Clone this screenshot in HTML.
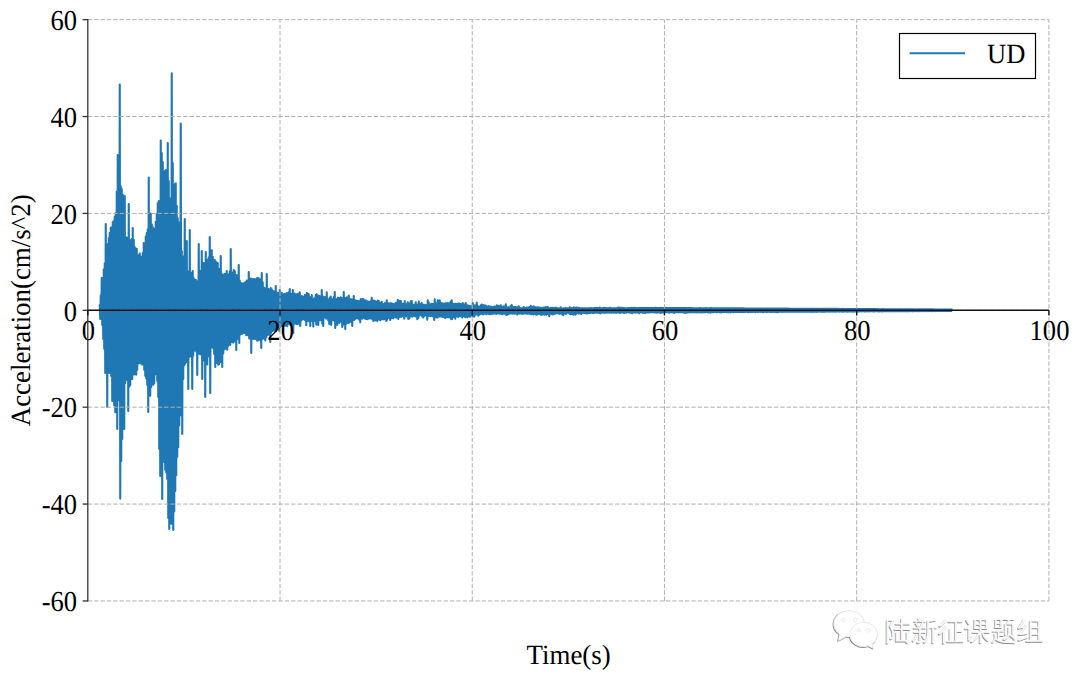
<!DOCTYPE html>
<html><head><meta charset="utf-8"><style>
html,body{margin:0;padding:0;background:#fff;width:1080px;height:680px;overflow:hidden}
svg{display:block}
text{font-family:"Liberation Serif",serif;font-size:27.8px;fill:#000;text-rendering:geometricPrecision}
.wm{font-family:"Liberation Sans",sans-serif;font-size:26.5px;font-weight:400}
</style></head><body>
<svg width="1080" height="680" viewBox="0 0 1080 680">
<rect width="1080" height="680" fill="#fff"/>
<path d="M99.75 304.1 L100.25 318.9 L100.75 295.2 L101.25 318.6 L101.75 278.1 L102.25 325.1 L102.75 277.9 L103.25 338.9 L103.75 269.4 L104.25 348.9 L104.75 263.4 L105.25 372.9 L105.75 224.1 L106.25 343.9 L106.75 244.1 L107.25 406.9 L107.75 244.8 L108.25 354.3 L108.75 238.1 L109.25 372.9 L109.75 232.7 L110.25 365.7 L110.75 227.7 L111.25 375.9 L111.75 227.4 L112.25 400.9 L112.75 222.1 L113.25 400.1 L113.75 221.1 L114.25 405.2 L114.75 216.6 L115.25 412.3 L115.75 213.1 L116.25 410.7 L116.75 191.5 L117.25 428.9 L117.75 155.1 L118.25 400.5 L118.75 192.6 L119.25 394.0 L119.75 84.6 L120.25 498.6 L120.75 186.2 L121.25 460.9 L121.75 189.1 L122.25 438.9 L122.75 194.6 L123.25 385.3 L123.75 203.9 L124.25 428.9 L124.75 196.1 L125.25 382.9 L125.75 237.0 L126.25 378.7 L126.75 238.2 L127.25 379.9 L127.75 237.6 L128.25 410.9 L128.75 204.1 L129.25 386.8 L129.75 240.8 L130.25 385.2 L130.75 240.1 L131.25 379.3 L131.75 238.9 L132.25 378.9 L132.75 228.1 L133.25 374.1 L133.75 239.9 L134.25 374.5 L134.75 247.0 L135.25 372.4 L135.75 248.6 L136.25 374.8 L136.75 248.8 L137.25 369.8 L137.75 257.4 L138.25 363.4 L138.75 255.1 L139.25 361.9 L139.75 253.5 L140.25 363.5 L140.75 256.5 L141.25 355.3 L141.75 260.4 L142.25 364.8 L142.75 253.1 L143.25 364.0 L143.75 243.1 L144.25 369.7 L144.75 244.1 L145.25 375.7 L145.75 236.5 L146.25 378.4 L146.75 232.9 L147.25 384.9 L147.75 229.4 L148.25 411.9 L148.75 177.6 L149.25 395.5 L149.75 220.8 L150.25 395.7 L150.75 213.5 L151.25 386.9 L151.75 224.2 L152.25 383.9 L152.75 227.1 L153.25 384.8 L153.75 228.7 L154.25 382.9 L154.75 228.6 L155.25 374.5 L155.75 221.8 L156.25 371.5 L156.75 214.1 L157.25 380.9 L157.75 203.1 L158.25 396.9 L158.75 201.0 L159.25 448.9 L159.75 201.2 L160.25 475.9 L160.75 140.6 L161.25 424.2 L161.75 153.1 L162.25 498.9 L162.75 162.1 L163.25 440.7 L163.75 184.4 L164.25 461.9 L164.75 171.1 L165.25 469.7 L165.75 170.0 L166.25 472.5 L166.75 174.2 L167.25 478.9 L167.75 143.1 L168.25 518.1 L168.75 181.1 L169.25 529.0 L169.75 198.2 L170.25 516.6 L170.75 200.2 L171.25 523.7 L171.75 73.4 L172.25 516.4 L172.75 163.1 L173.25 530.0 L173.75 186.3 L174.25 511.4 L174.75 184.4 L175.25 490.9 L175.75 183.4 L176.25 475.3 L176.75 205.7 L177.25 456.8 L177.75 218.3 L178.25 447.2 L178.75 222.4 L179.25 425.4 L179.75 229.2 L180.25 415.4 L180.75 123.6 L181.25 399.5 L181.75 251.1 L182.25 433.9 L182.75 256.3 L183.25 379.0 L183.75 262.9 L184.25 365.2 L184.75 219.1 L185.25 363.5 L185.75 272.2 L186.25 361.9 L186.75 241.1 L187.25 361.4 L187.75 271.3 L188.25 388.9 L188.75 274.2 L189.25 357.1 L189.75 230.1 L190.25 356.5 L190.75 272.5 L191.25 354.3 L191.75 277.3 L192.25 388.9 L192.75 271.1 L193.25 355.8 L193.75 278.1 L194.25 350.8 L194.75 279.9 L195.25 350.1 L195.75 279.7 L196.25 351.4 L196.75 281.4 L197.25 374.9 L197.75 281.6 L198.25 350.9 L198.75 244.1 L199.25 353.8 L199.75 274.6 L200.25 354.4 L200.75 270.8 L201.25 353.8 L201.75 251.1 L202.25 378.9 L202.75 267.6 L203.25 359.0 L203.75 263.1 L204.25 360.8 L204.75 263.0 L205.25 396.9 L205.75 252.1 L206.25 362.5 L206.75 259.7 L207.25 364.4 L207.75 259.5 L208.25 356.5 L208.75 257.2 L209.25 353.5 L209.75 237.1 L210.25 392.9 L210.75 257.8 L211.25 347.4 L211.75 250.3 L212.25 342.7 L212.75 256.7 L213.25 348.4 L213.75 260.8 L214.25 354.0 L214.75 259.9 L215.25 366.9 L215.75 261.5 L216.25 363.3 L216.75 262.6 L217.25 362.1 L217.75 263.1 L218.25 364.7 L218.75 268.7 L219.25 364.1 L219.75 270.6 L220.25 362.0 L220.75 256.1 L221.25 361.2 L221.75 273.7 L222.25 366.9 L222.75 274.8 L223.25 353.4 L223.75 274.7 L224.25 349.5 L224.75 273.7 L225.25 348.8 L225.75 274.7 L226.25 347.2 L226.75 271.1 L227.25 349.7 L227.75 274.8 L228.25 345.8 L228.75 274.3 L229.25 343.4 L229.75 271.2 L230.25 344.9 L230.75 249.1 L231.25 342.1 L231.75 272.2 L232.25 342.1 L232.75 273.4 L233.25 342.6 L233.75 270.0 L234.25 341.6 L234.75 271.1 L235.25 340.6 L235.75 274.8 L236.25 349.9 L236.75 277.2 L237.25 339.1 L237.75 275.0 L238.25 335.7 L238.75 265.1 L239.25 342.9 L239.75 280.5 L240.25 334.5 L240.75 282.8 L241.25 332.3 L241.75 284.2 L242.25 334.0 L242.75 283.6 L243.25 331.7 L243.75 283.4 L244.25 332.9 L244.75 282.8 L245.25 333.0 L245.75 282.1 L246.25 335.2 L246.75 280.6 L247.25 334.5 L247.75 280.5 L248.25 335.4 L248.75 272.1 L249.25 338.6 L249.75 280.9 L250.25 336.2 L250.75 278.6 L251.25 352.9 L251.75 278.9 L252.25 337.9 L252.75 280.7 L253.25 339.0 L253.75 279.1 L254.25 338.4 L254.75 279.2 L255.25 339.0 L255.75 279.6 L256.25 339.3 L256.75 278.4 L257.25 340.8 L257.75 278.0 L258.25 340.2 L258.75 278.2 L259.25 338.8 L259.75 279.7 L260.25 340.1 L260.75 279.3 L261.25 347.9 L261.75 273.1 L262.25 338.9 L262.75 282.2 L263.25 338.5 L263.75 287.6 L264.25 338.2 L264.75 288.3 L265.25 340.4 L265.75 288.7 L266.25 337.4 L266.75 274.1 L267.25 335.1 L267.75 288.6 L268.25 334.8 L268.75 289.2 L269.25 334.1 L269.75 290.1 L270.25 341.9 L270.75 288.1 L271.25 332.8 L271.75 289.3 L272.25 331.1 L272.75 291.1 L273.25 330.6 L273.75 291.2 L274.25 330.4 L274.75 291.2 L275.25 330.3 L275.75 286.1 L276.25 331.2 L276.75 292.3 L277.25 329.1 L277.75 293.4 L278.25 328.9 L278.75 292.8 L279.25 330.9 L279.75 290.1 L280.25 327.1 L280.75 294.4 L281.25 326.1 L281.75 292.7 L282.25 325.9 L282.75 295.0 L283.25 325.9 L283.75 294.3 L284.25 325.1 L284.75 293.8 L285.25 325.6 L285.75 294.8 L286.25 325.5 L286.75 293.1 L287.25 326.2 L287.75 294.3 L288.25 323.9 L288.75 292.2 L289.25 323.8 L289.75 289.1 L290.25 325.0 L290.75 295.0 L291.25 323.7 L291.75 293.9 L292.25 324.2 L292.75 290.1 L293.25 332.9 L293.75 293.7 L294.25 323.6 L294.75 293.6 L295.25 323.4 L295.75 295.1 L296.25 324.0 L296.75 294.3 L297.25 324.1 L297.75 294.1 L298.25 323.7 L298.75 293.6 L299.25 323.0 L299.75 292.3 L300.25 325.9 L300.75 296.8 L301.25 320.4 L301.75 296.0 L302.25 319.4 L302.75 296.7 L303.25 318.6 L303.75 297.2 L304.25 319.6 L304.75 295.1 L305.25 320.1 L305.75 296.7 L306.25 325.3 L306.75 293.1 L307.25 320.5 L307.75 293.8 L308.25 321.1 L308.75 294.2 L309.25 321.3 L309.75 297.4 L310.25 326.0 L310.75 297.0 L311.25 321.0 L311.75 295.1 L312.25 319.3 L312.75 298.7 L313.25 326.6 L313.75 298.9 L314.25 318.7 L314.75 298.1 L315.25 320.9 L315.75 295.1 L316.25 324.6 L316.75 294.4 L317.25 320.7 L317.75 295.5 L318.25 324.9 L318.75 295.7 L319.25 320.3 L319.75 296.2 L320.25 320.3 L320.75 296.5 L321.25 318.1 L321.75 290.1 L322.25 323.6 L322.75 296.2 L323.25 325.9 L323.75 298.7 L324.25 317.3 L324.75 297.0 L325.25 317.4 L325.75 299.2 L326.25 318.6 L326.75 292.3 L327.25 317.8 L327.75 300.0 L328.25 320.4 L328.75 299.2 L329.25 324.1 L329.75 297.7 L330.25 319.7 L330.75 296.6 L331.25 325.0 L331.75 299.1 L332.25 318.8 L332.75 299.3 L333.25 320.1 L333.75 297.1 L334.25 320.6 L334.75 292.1 L335.25 327.9 L335.75 301.5 L336.25 322.4 L336.75 299.1 L337.25 325.0 L337.75 297.7 L338.25 321.0 L338.75 297.9 L339.25 322.9 L339.75 299.4 L340.25 321.7 L340.75 297.3 L341.25 321.4 L341.75 298.1 L342.25 326.9 L342.75 298.4 L343.25 324.6 L343.75 292.1 L344.25 321.7 L344.75 297.8 L345.25 328.9 L345.75 299.2 L346.25 323.8 L346.75 297.4 L347.25 321.5 L347.75 298.8 L348.25 322.9 L348.75 295.6 L349.25 322.5 L349.75 300.9 L350.25 320.3 L350.75 299.1 L351.25 321.9 L351.75 300.6 L352.25 325.9 L352.75 299.4 L353.25 319.7 L353.75 296.1 L354.25 319.9 L354.75 300.0 L355.25 319.0 L355.75 300.7 L356.25 318.3 L356.75 300.8 L357.25 317.8 L357.75 300.9 L358.25 318.7 L358.75 301.1 L359.25 319.8 L359.75 301.2 L360.25 322.3 L360.75 299.1 L361.25 317.6 L361.75 301.7 L362.25 318.8 L362.75 299.1 L363.25 317.6 L363.75 299.5 L364.25 318.2 L364.75 302.8 L365.25 318.7 L365.75 300.2 L366.25 318.9 L366.75 302.4 L367.25 319.1 L367.75 301.3 L368.25 318.6 L368.75 302.1 L369.25 318.4 L369.75 301.9 L370.25 318.1 L370.75 301.0 L371.25 318.6 L371.75 297.7 L372.25 318.6 L372.75 301.4 L373.25 320.9 L373.75 300.6 L374.25 319.9 L374.75 301.1 L375.25 320.5 L375.75 301.5 L376.25 318.7 L376.75 302.1 L377.25 320.9 L377.75 300.6 L378.25 319.5 L378.75 301.1 L379.25 319.4 L379.75 302.7 L380.25 320.2 L380.75 302.9 L381.25 319.2 L381.75 301.8 L382.25 319.3 L382.75 304.0 L383.25 319.3 L383.75 304.0 L384.25 319.1 L384.75 303.1 L385.25 318.7 L385.75 303.6 L386.25 320.9 L386.75 300.4 L387.25 319.6 L387.75 303.6 L388.25 318.0 L388.75 303.3 L389.25 317.7 L389.75 303.7 L390.25 319.9 L390.75 303.2 L391.25 318.1 L391.75 303.6 L392.25 317.6 L392.75 303.8 L393.25 318.2 L393.75 304.0 L394.25 317.3 L394.75 304.6 L395.25 316.9 L395.75 302.9 L396.25 317.6 L396.75 304.6 L397.25 316.8 L397.75 299.8 L398.25 318.9 L398.75 304.5 L399.25 317.1 L399.75 301.1 L400.25 316.0 L400.75 300.9 L401.25 317.0 L401.75 303.7 L402.25 315.8 L402.75 303.9 L403.25 316.3 L403.75 304.5 L404.25 318.8 L404.75 301.1 L405.25 316.0 L405.75 304.1 L406.25 316.4 L406.75 304.2 L407.25 315.8 L407.75 302.4 L408.25 318.9 L408.75 303.4 L409.25 318.5 L409.75 303.3 L410.25 316.5 L410.75 301.4 L411.25 316.2 L411.75 301.1 L412.25 316.6 L412.75 304.9 L413.25 316.0 L413.75 304.9 L414.25 315.7 L414.75 304.5 L415.25 316.4 L415.75 302.2 L416.25 315.3 L416.75 304.6 L417.25 319.1 L417.75 305.2 L418.25 317.9 L418.75 301.5 L419.25 315.6 L419.75 303.7 L420.25 314.8 L420.75 304.5 L421.25 315.2 L421.75 303.1 L422.25 316.5 L422.75 305.7 L423.25 317.5 L423.75 304.8 L424.25 315.9 L424.75 304.9 L425.25 315.0 L425.75 305.7 L426.25 315.5 L426.75 304.7 L427.25 319.6 L427.75 300.4 L428.25 315.5 L428.75 302.3 L429.25 315.9 L429.75 305.8 L430.25 316.3 L430.75 304.2 L431.25 315.8 L431.75 303.8 L432.25 316.0 L432.75 304.6 L433.25 316.5 L433.75 303.8 L434.25 319.9 L434.75 299.4 L435.25 317.3 L435.75 304.8 L436.25 316.2 L436.75 303.4 L437.25 317.8 L437.75 300.4 L438.25 316.6 L438.75 303.8 L439.25 316.4 L439.75 300.4 L440.25 316.5 L440.75 303.1 L441.25 316.3 L441.75 303.3 L442.25 317.0 L442.75 303.2 L443.25 316.8 L443.75 304.4 L444.25 317.0 L444.75 303.6 L445.25 318.3 L445.75 303.4 L446.25 316.4 L446.75 303.5 L447.25 317.2 L447.75 303.1 L448.25 317.3 L448.75 304.5 L449.25 316.8 L449.75 303.1 L450.25 317.7 L450.75 301.3 L451.25 319.3 L451.75 300.2 L452.25 319.0 L452.75 303.9 L453.25 317.0 L453.75 303.7 L454.25 316.9 L454.75 304.0 L455.25 318.8 L455.75 303.8 L456.25 315.9 L456.75 304.1 L457.25 316.4 L457.75 303.7 L458.25 316.9 L458.75 303.5 L459.25 316.0 L459.75 303.9 L460.25 316.1 L460.75 304.1 L461.25 316.3 L461.75 304.0 L462.25 317.4 L462.75 303.1 L463.25 316.1 L463.75 304.3 L464.25 316.0 L464.75 304.9 L465.25 317.3 L465.75 303.0 L466.25 315.5 L466.75 305.4 L467.25 317.1 L467.75 305.4 L468.25 315.6 L468.75 306.0 L469.25 316.5 L469.75 305.7 L470.25 316.6 L470.75 306.3 L471.25 314.9 L471.75 306.2 L472.25 315.6 L472.75 303.1 L473.25 316.5 L473.75 306.5 L474.25 316.8 L474.75 305.2 L475.25 314.8 L475.75 305.3 L476.25 314.3 L476.75 302.6 L477.25 314.4 L477.75 305.8 L478.25 315.8 L478.75 306.7 L479.25 314.7 L479.75 306.5 L480.25 314.0 L480.75 305.4 L481.25 313.8 L481.75 304.5 L482.25 313.8 L482.75 307.1 L483.25 314.5 L483.75 305.1 L484.25 313.4 L484.75 307.1 L485.25 313.5 L485.75 305.6 L486.25 314.1 L486.75 306.2 L487.25 313.4 L487.75 307.2 L488.25 313.5 L488.75 306.1 L489.25 314.1 L489.75 307.1 L490.25 314.2 L490.75 306.5 L491.25 313.9 L491.75 307.1 L492.25 313.8 L492.75 307.4 L493.25 313.5 L493.75 306.8 L494.25 313.5 L494.75 306.5 L495.25 313.5 L495.75 307.1 L496.25 314.0 L496.75 305.4 L497.25 313.2 L497.75 307.0 L498.25 313.4 L498.75 305.7 L499.25 313.5 L499.75 306.5 L500.25 313.6 L500.75 305.2 L501.25 313.6 L501.75 307.6 L502.25 314.2 L502.75 306.8 L503.25 313.6 L503.75 306.2 L504.25 313.7 L504.75 306.5 L505.25 313.5 L505.75 304.4 L506.25 314.9 L506.75 307.0 L507.25 314.6 L507.75 307.8 L508.25 314.1 L508.75 307.3 L509.25 313.7 L509.75 307.8 L510.25 313.2 L510.75 305.9 L511.25 313.4 L511.75 305.1 L512.25 313.6 L512.75 307.2 L513.25 313.4 L513.75 307.1 L514.25 313.6 L514.75 307.0 L515.25 313.5 L515.75 307.1 L516.25 313.4 L516.75 307.7 L517.25 314.5 L517.75 307.1 L518.25 313.3 L518.75 306.3 L519.25 313.6 L519.75 308.1 L520.25 313.5 L520.75 308.3 L521.25 313.7 L521.75 308.4 L522.25 313.8 L522.75 308.2 L523.25 313.7 L523.75 307.0 L524.25 313.5 L524.75 308.1 L525.25 313.3 L525.75 308.4 L526.25 313.6 L526.75 307.5 L527.25 313.7 L527.75 307.9 L528.25 313.5 L528.75 307.5 L529.25 313.7 L529.75 307.0 L530.25 313.6 L530.75 305.7 L531.25 314.2 L531.75 307.7 L532.25 313.6 L532.75 307.0 L533.25 314.4 L533.75 306.3 L534.25 313.8 L534.75 307.2 L535.25 314.2 L535.75 307.2 L536.25 314.8 L536.75 307.8 L537.25 314.4 L537.75 307.4 L538.25 314.0 L538.75 307.8 L539.25 313.8 L539.75 307.6 L540.25 314.1 L540.75 308.0 L541.25 314.9 L541.75 307.7 L542.25 314.4 L542.75 308.1 L543.25 314.2 L543.75 307.6 L544.25 314.8 L544.75 307.7 L545.25 313.8 L545.75 307.1 L546.25 314.8 L546.75 307.7 L547.25 313.9 L547.75 307.1 L548.25 313.7 L548.75 308.2 L549.25 316.1 L549.75 308.2 L550.25 313.4 L550.75 308.0 L551.25 313.6 L551.75 307.9 L552.25 314.4 L552.75 307.9 L553.25 314.2 L553.75 308.0 L554.25 313.8 L554.75 308.0 L555.25 313.6 L555.75 307.6 L556.25 313.0 L556.75 308.3 L557.25 313.3 L557.75 308.2 L558.25 313.2 L558.75 308.4 L559.25 313.8 L559.75 308.5 L560.25 313.3 L560.75 307.4 L561.25 313.7 L561.75 308.5 L562.25 314.5 L562.75 308.5 L563.25 315.1 L563.75 308.2 L564.25 312.9 L564.75 308.5 L565.25 313.7 L565.75 308.1 L566.25 313.7 L566.75 308.5 L567.25 312.8 L567.75 308.4 L568.25 312.7 L568.75 308.5 L569.25 313.4 L569.75 307.4 L570.25 314.1 L570.75 308.1 L571.25 313.9 L571.75 308.1 L572.25 313.0 L572.75 308.4 L573.25 314.7 L573.75 307.4 L574.25 313.1 L574.75 308.6 L575.25 314.6 L575.75 307.7 L576.25 313.8 L576.75 307.5 L577.25 312.8 L577.75 308.6 L578.25 313.4 L578.75 307.9 L579.25 313.4 L579.75 308.4 L580.25 313.4 L580.75 308.2 L581.25 314.0 L581.75 308.3 L582.25 313.0 L582.75 308.2 L583.25 312.7 L583.75 308.3 L584.25 312.9 L584.75 308.3 L585.25 313.0 L585.75 308.4 L586.25 313.5 L586.75 308.5 L587.25 313.4 L587.75 308.3 L588.25 312.9 L588.75 308.4 L589.25 312.9 L589.75 308.3 L590.25 312.9 L590.75 308.1 L591.25 312.5 L591.75 308.3 L592.25 313.0 L592.75 308.4 L593.25 313.1 L593.75 308.3 L594.25 312.8 L594.75 308.1 L595.25 312.6 L595.75 308.1 L596.25 312.5 L596.75 307.7 L597.25 312.7 L597.75 308.1 L598.25 312.8 L598.75 308.4 L599.25 313.0 L599.75 307.6 L600.25 313.4 L600.75 308.2 L601.25 312.6 L601.75 308.3 L602.25 312.5 L602.75 308.4 L603.25 312.7 L603.75 307.9 L604.25 312.8 L604.75 308.3 L605.25 312.8 L605.75 308.1 L606.25 312.5 L606.75 308.3 L607.25 312.7 L607.75 308.2 L608.25 312.4 L608.75 308.2 L609.25 312.7 L609.75 307.9 L610.25 312.5 L610.75 308.3 L611.25 312.7 L611.75 308.4 L612.25 312.4 L612.75 308.3 L613.25 312.7 L613.75 308.2 L614.25 312.4 L614.75 308.2 L615.25 312.7 L615.75 308.2 L616.25 312.8 L616.75 308.3 L617.25 312.4 L617.75 307.9 L618.25 312.4 L618.75 307.6 L619.25 313.0 L619.75 307.8 L620.25 312.8 L620.75 307.9 L621.25 312.5 L621.75 308.0 L622.25 312.4 L622.75 307.7 L623.25 312.6 L623.75 308.1 L624.25 312.9 L624.75 308.3 L625.25 312.3 L625.75 308.2 L626.25 312.6 L626.75 308.2 L627.25 312.3 L627.75 308.2 L628.25 312.4 L628.75 308.0 L629.25 312.3 L629.75 308.0 L630.25 312.8 L630.75 308.2 L631.25 312.6 L631.75 307.7 L632.25 313.2 L632.75 308.1 L633.25 312.4 L633.75 307.8 L634.25 312.3 L634.75 307.9 L635.25 312.7 L635.75 308.1 L636.25 312.4 L636.75 308.1 L637.25 312.4 L637.75 308.2 L638.25 312.5 L638.75 308.1 L639.25 313.1 L639.75 308.1 L640.25 312.4 L640.75 308.0 L641.25 312.2 L641.75 308.1 L642.25 312.4 L642.75 308.1 L643.25 312.9 L643.75 308.1 L644.25 312.5 L644.75 308.1 L645.25 312.9 L645.75 308.0 L646.25 312.5 L646.75 308.1 L647.25 312.4 L647.75 308.0 L648.25 312.5 L648.75 308.1 L649.25 312.4 L649.75 308.1 L650.25 312.2 L650.75 308.0 L651.25 312.3 L651.75 308.0 L652.25 312.2 L652.75 308.0 L653.25 312.3 L653.75 308.1 L654.25 312.5 L654.75 308.0 L655.25 312.3 L655.75 307.9 L656.25 312.6 L656.75 308.0 L657.25 312.4 L657.75 308.0 L658.25 312.5 L658.75 308.0 L659.25 312.3 L659.75 308.0 L660.25 312.9 L660.75 307.9 L661.25 312.5 L661.75 308.0 L662.25 312.4 L662.75 308.0 L663.25 312.4 L663.75 308.0 L664.25 312.3 L664.75 307.9 L665.25 312.3 L665.75 308.0 L666.25 312.3 L666.75 307.9 L667.25 312.2 L667.75 308.0 L668.25 312.2 L668.75 308.1 L669.25 312.6 L669.75 308.0 L670.25 312.3 L670.75 308.0 L671.25 312.3 L671.75 308.0 L672.25 312.4 L672.75 308.0 L673.25 312.2 L673.75 308.0 L674.25 312.9 L674.75 308.1 L675.25 312.3 L675.75 308.1 L676.25 312.3 L676.75 308.0 L677.25 312.3 L677.75 308.1 L678.25 312.3 L678.75 308.1 L679.25 312.1 L679.75 308.1 L680.25 312.1 L680.75 308.1 L681.25 312.3 L681.75 308.1 L682.25 312.1 L682.75 308.1 L683.25 312.1 L683.75 308.0 L684.25 312.8 L684.75 308.1 L685.25 312.8 L685.75 308.1 L686.25 312.8 L686.75 308.1 L687.25 312.5 L687.75 308.2 L688.25 312.2 L688.75 308.1 L689.25 312.4 L689.75 308.2 L690.25 312.1 L690.75 308.1 L691.25 312.3 L691.75 308.1 L692.25 312.3 L692.75 308.2 L693.25 312.3 L693.75 308.2 L694.25 312.1 L694.75 308.2 L695.25 312.2 L695.75 308.2 L696.25 312.5 L696.75 308.2 L697.25 312.1 L697.75 308.2 L698.25 312.2 L698.75 308.2 L699.25 312.1 L699.75 308.1 L700.25 312.4 L700.75 308.2 L701.25 312.1 L701.75 308.2 L702.25 312.5 L702.75 308.2 L703.25 312.1 L703.75 308.2 L704.25 312.1 L704.75 308.2 L705.25 312.1 L705.75 308.1 L706.25 312.0 L706.75 308.2 L707.25 312.2 L707.75 308.3 L708.25 312.5 L708.75 308.2 L709.25 312.0 L709.75 308.2 L710.25 312.6 L710.75 308.1 L711.25 312.1 L711.75 308.2 L712.25 312.2 L712.75 308.2 L713.25 312.3 L713.75 308.3 L714.25 312.0 L714.75 308.2 L715.25 312.0 L715.75 308.3 L716.25 312.1 L716.75 308.3 L717.25 312.1 L717.75 308.3 L718.25 312.0 L718.75 308.3 L719.25 312.1 L719.75 308.3 L720.25 312.1 L720.75 308.3 L721.25 312.5 L721.75 308.3 L722.25 311.9 L722.75 308.3 L723.25 311.9 L723.75 308.3 L724.25 312.0 L724.75 308.4 L725.25 311.9 L725.75 308.3 L726.25 312.1 L726.75 308.3 L727.25 311.9 L727.75 308.3 L728.25 312.3 L728.75 308.3 L729.25 312.0 L729.75 308.4 L730.25 312.4 L730.75 308.3 L731.25 311.9 L731.75 308.2 L732.25 311.9 L732.75 308.4 L733.25 312.2 L733.75 308.4 L734.25 311.9 L734.75 308.4 L735.25 312.0 L735.75 308.3 L736.25 312.0 L736.75 308.4 L737.25 312.0 L737.75 308.4 L738.25 311.9 L738.75 308.4 L739.25 311.9 L739.75 308.4 L740.25 311.9 L740.75 308.4 L741.25 311.9 L741.75 308.4 L742.25 312.1 L742.75 308.4 L743.25 312.0 L743.75 308.4 L744.25 311.9 L744.75 308.5 L745.25 311.9 L745.75 308.5 L746.25 311.8 L746.75 308.5 L747.25 311.9 L747.75 308.5 L748.25 312.2 L748.75 308.5 L749.25 311.8 L749.75 308.5 L750.25 312.1 L750.75 308.5 L751.25 311.9 L751.75 308.5 L752.25 312.0 L752.75 308.5 L753.25 311.9 L753.75 308.5 L754.25 311.8 L754.75 308.5 L755.25 312.2 L755.75 308.5 L756.25 311.8 L756.75 308.5 L757.25 311.9 L757.75 308.5 L758.25 311.9 L758.75 308.5 L759.25 311.8 L759.75 308.5 L760.25 311.9 L760.75 308.5 L761.25 311.8 L761.75 308.5 L762.25 312.0 L762.75 308.5 L763.25 312.1 L763.75 308.5 L764.25 311.8 L764.75 308.5 L765.25 311.8 L765.75 308.5 L766.25 312.0 L766.75 308.6 L767.25 312.0 L767.75 308.5 L768.25 311.8 L768.75 308.6 L769.25 311.8 L769.75 308.6 L770.25 311.9 L770.75 308.6 L771.25 312.0 L771.75 308.6 L772.25 311.8 L772.75 308.5 L773.25 312.0 L773.75 308.5 L774.25 311.8 L774.75 308.5 L775.25 311.9 L775.75 308.6 L776.25 312.1 L776.75 308.6 L777.25 311.9 L777.75 308.6 L778.25 312.2 L778.75 308.6 L779.25 311.7 L779.75 308.6 L780.25 311.8 L780.75 308.6 L781.25 311.7 L781.75 308.6 L782.25 311.9 L782.75 308.6 L783.25 311.8 L783.75 308.6 L784.25 311.8 L784.75 308.6 L785.25 311.7 L785.75 308.6 L786.25 311.7 L786.75 308.6 L787.25 311.7 L787.75 308.7 L788.25 311.8 L788.75 308.6 L789.25 311.7 L789.75 308.7 L790.25 311.8 L790.75 308.7 L791.25 311.8 L791.75 308.7 L792.25 311.7 L792.75 308.7 L793.25 311.6 L793.75 308.7 L794.25 311.7 L794.75 308.7 L795.25 311.8 L795.75 308.7 L796.25 311.6 L796.75 308.7 L797.25 311.7 L797.75 308.7 L798.25 311.6 L798.75 308.7 L799.25 311.6 L799.75 308.7 L800.25 311.6 L800.75 308.7 L801.25 311.6 L801.75 308.7 L802.25 311.7 L802.75 308.8 L803.25 311.6 L803.75 308.8 L804.25 311.6 L804.75 308.8 L805.25 311.6 L805.75 308.8 L806.25 311.7 L806.75 308.8 L807.25 311.6 L807.75 308.8 L808.25 311.6 L808.75 308.8 L809.25 311.7 L809.75 308.8 L810.25 311.6 L810.75 308.8 L811.25 311.7 L811.75 308.8 L812.25 311.9 L812.75 308.8 L813.25 311.6 L813.75 308.8 L814.25 311.8 L814.75 308.8 L815.25 311.6 L815.75 308.8 L816.25 311.7 L816.75 308.8 L817.25 311.9 L817.75 308.8 L818.25 311.5 L818.75 308.8 L819.25 311.6 L819.75 308.8 L820.25 311.5 L820.75 308.8 L821.25 311.7 L821.75 308.8 L822.25 311.6 L822.75 308.8 L823.25 311.7 L823.75 308.9 L824.25 311.6 L824.75 308.8 L825.25 311.8 L825.75 308.8 L826.25 311.5 L826.75 308.9 L827.25 311.5 L827.75 308.9 L828.25 311.6 L828.75 308.8 L829.25 311.5 L829.75 308.9 L830.25 311.6 L830.75 308.9 L831.25 311.5 L831.75 308.8 L832.25 311.6 L832.75 308.9 L833.25 311.5 L833.75 308.9 L834.25 311.5 L834.75 308.9 L835.25 311.7 L835.75 308.9 L836.25 311.5 L836.75 308.9 L837.25 311.5 L837.75 308.9 L838.25 311.5 L838.75 309.0 L839.25 311.6 L839.75 308.9 L840.25 311.4 L840.75 309.0 L841.25 311.5 L841.75 309.0 L842.25 311.6 L842.75 308.9 L843.25 311.7 L843.75 309.0 L844.25 311.4 L844.75 309.0 L845.25 311.5 L845.75 309.0 L846.25 311.5 L846.75 309.0 L847.25 311.7 L847.75 309.0 L848.25 311.5 L848.75 309.0 L849.25 311.5 L849.75 309.0 L850.25 311.5 L850.75 309.0 L851.25 311.5 L851.75 309.0 L852.25 311.4 L852.75 309.0 L853.25 311.6 L853.75 309.0 L854.25 311.4 L854.75 309.0 L855.25 311.4 L855.75 309.0 L856.25 311.5 L856.75 309.0 L857.25 311.5 L857.75 309.0 L858.25 311.4 L858.75 309.0 L859.25 311.4 L859.75 309.1 L860.25 311.3 L860.75 309.0 L861.25 311.4 L861.75 309.1 L862.25 311.3 L862.75 309.1 L863.25 311.3 L863.75 309.1 L864.25 311.4 L864.75 309.1 L865.25 311.4 L865.75 309.1 L866.25 311.3 L866.75 309.1 L867.25 311.4 L867.75 309.1 L868.25 311.3 L868.75 309.1 L869.25 311.4 L869.75 309.1 L870.25 311.3 L870.75 309.1 L871.25 311.3 L871.75 309.1 L872.25 311.3 L872.75 309.1 L873.25 311.4 L873.75 309.1 L874.25 311.4 L874.75 309.1 L875.25 311.3 L875.75 309.1 L876.25 311.3 L876.75 309.2 L877.25 311.3 L877.75 309.1 L878.25 311.3 L878.75 309.2 L879.25 311.4 L879.75 309.2 L880.25 311.3 L880.75 309.2 L881.25 311.3 L881.75 309.2 L882.25 311.4 L882.75 309.1 L883.25 311.3 L883.75 309.2 L884.25 311.3 L884.75 309.2 L885.25 311.3 L885.75 309.2 L886.25 311.3 L886.75 309.2 L887.25 311.2 L887.75 309.2 L888.25 311.2 L888.75 309.2 L889.25 311.3 L889.75 309.2 L890.25 311.2 L890.75 309.2 L891.25 311.3 L891.75 309.2 L892.25 311.2 L892.75 309.2 L893.25 311.2 L893.75 309.2 L894.25 311.2 L894.75 309.2 L895.25 311.2 L895.75 309.2 L896.25 311.2 L896.75 309.2 L897.25 311.2 L897.75 309.3 L898.25 311.2 L898.75 309.2 L899.25 311.2 L899.75 309.2 L900.25 311.3 L900.75 309.3 L901.25 311.2 L901.75 309.3 L902.25 311.2 L902.75 309.3 L903.25 311.2 L903.75 309.3 L904.25 311.2 L904.75 309.3 L905.25 311.2 L905.75 309.3 L906.25 311.2 L906.75 309.3 L907.25 311.2 L907.75 309.3 L908.25 311.2 L908.75 309.3 L909.25 311.1 L909.75 309.3 L910.25 311.1 L910.75 309.3 L911.25 311.1 L911.75 309.3 L912.25 311.2 L912.75 309.3 L913.25 311.2 L913.75 309.3 L914.25 311.1 L914.75 309.4 L915.25 311.1 L915.75 309.4 L916.25 311.1 L916.75 309.4 L917.25 311.1 L917.75 309.4 L918.25 311.2 L918.75 309.4 L919.25 311.1 L919.75 309.4 L920.25 311.1 L920.75 309.4 L921.25 311.1 L921.75 309.4 L922.25 311.1 L922.75 309.4 L923.25 311.1 L923.75 309.4 L924.25 311.1 L924.75 309.4 L925.25 311.1 L925.75 309.4 L926.25 311.1 L926.75 309.4 L927.25 311.1 L927.75 309.4 L928.25 311.1 L928.75 309.4 L929.25 311.1 L929.75 309.4 L930.25 311.0 L930.75 309.4 L931.25 311.1 L931.75 309.4 L932.25 311.1 L932.75 309.4 L933.25 311.1 L933.75 309.4 L934.25 311.0 L934.75 309.5 L935.25 311.1 L935.75 309.5 L936.25 311.0 L936.75 309.5 L937.25 311.0 L937.75 309.5 L938.25 311.0 L938.75 309.5 L939.25 311.0 L939.75 309.5 L940.25 311.0 L940.75 309.5 L941.25 311.0 L941.75 309.5 L942.25 311.0 L942.75 309.5 L943.25 311.0 L943.75 309.5 L944.25 311.0 L944.75 309.5 L945.25 311.0 L945.75 309.5 L946.25 311.0 L946.75 309.5 L947.25 311.0 L947.75 309.5 L948.25 311.0 L948.75 309.5 L949.25 311.0 L949.75 309.5 L950.25 311.0 L950.75 309.5 L951.25 311.0 L951.75 309.5 L952.25 311.0" fill="none" stroke="#1f77b4" stroke-width="2.1" stroke-linejoin="round"/>
<text transform="translate(88.40,339.8) scale(0.955,1.04)" text-anchor="middle">0</text>
<text transform="translate(280.62,339.8) scale(0.955,1.04)" text-anchor="middle">20</text>
<text transform="translate(472.84,339.8) scale(0.955,1.04)" text-anchor="middle">40</text>
<text transform="translate(665.06,339.8) scale(0.955,1.04)" text-anchor="middle">60</text>
<text transform="translate(857.28,339.8) scale(0.955,1.04)" text-anchor="middle">80</text>
<text transform="translate(1049.50,339.8) scale(0.955,1.04)" text-anchor="middle">100</text>
<g stroke="#b0b0b0" stroke-width="1" stroke-dasharray="4.4 1.953">
<line x1="87.8" y1="600.95" x2="1048.9" y2="600.95"/>
<line x1="87.8" y1="504.07" x2="1048.9" y2="504.07"/>
<line x1="87.8" y1="407.18" x2="1048.9" y2="407.18"/>
<line x1="87.8" y1="310.30" x2="1048.9" y2="310.30"/>
<line x1="87.8" y1="213.42" x2="1048.9" y2="213.42"/>
<line x1="87.8" y1="116.53" x2="1048.9" y2="116.53"/>
<line x1="87.8" y1="19.65" x2="1048.9" y2="19.65"/>
<line x1="280.02" y1="600.9" x2="280.02" y2="19.65"/>
<line x1="472.24" y1="600.9" x2="472.24" y2="19.65"/>
<line x1="664.46" y1="600.9" x2="664.46" y2="19.65"/>
<line x1="856.68" y1="600.9" x2="856.68" y2="19.65"/>
<line x1="1048.90" y1="600.9" x2="1048.90" y2="19.65"/>
</g>
<line x1="87.8" y1="310.3" x2="1048.9" y2="310.3" stroke="#111" stroke-width="1.5"/>
<line x1="87.8" y1="19.049999999999997" x2="87.8" y2="601.5" stroke="#333" stroke-width="1.3"/>
<g stroke="#333" stroke-width="1.3">
<line x1="82.6" y1="600.95" x2="87.8" y2="600.95"/>
<line x1="82.6" y1="504.07" x2="87.8" y2="504.07"/>
<line x1="82.6" y1="407.18" x2="87.8" y2="407.18"/>
<line x1="82.6" y1="310.30" x2="87.8" y2="310.30"/>
<line x1="82.6" y1="213.42" x2="87.8" y2="213.42"/>
<line x1="82.6" y1="116.53" x2="87.8" y2="116.53"/>
<line x1="82.6" y1="19.65" x2="87.8" y2="19.65"/>
</g>
<g stroke="#111" stroke-width="1.4">
<line x1="87.80" y1="310.3" x2="87.80" y2="315.50"/>
<line x1="280.02" y1="310.3" x2="280.02" y2="315.50"/>
<line x1="472.24" y1="310.3" x2="472.24" y2="315.50"/>
<line x1="664.46" y1="310.3" x2="664.46" y2="315.50"/>
<line x1="856.68" y1="310.3" x2="856.68" y2="315.50"/>
<line x1="1048.90" y1="310.3" x2="1048.90" y2="315.50"/>
</g>
<text transform="translate(77.1,611.25) scale(0.955,1.04)" text-anchor="end">-60</text>
<text transform="translate(77.1,514.37) scale(0.955,1.04)" text-anchor="end">-40</text>
<text transform="translate(77.1,417.48) scale(0.955,1.04)" text-anchor="end">-20</text>
<text transform="translate(77.1,320.60) scale(0.955,1.04)" text-anchor="end">0</text>
<text transform="translate(77.1,223.72) scale(0.955,1.04)" text-anchor="end">20</text>
<text transform="translate(77.1,126.83) scale(0.955,1.04)" text-anchor="end">40</text>
<text transform="translate(77.1,29.95) scale(0.955,1.04)" text-anchor="end">60</text>
<text transform="translate(568.6,663.9) scale(0.967,1)" text-anchor="middle">Time(s)</text>
<text transform="translate(29.8,310.3) rotate(-90) scale(0.966,1)" text-anchor="middle">Acceleration(cm/s^2)</text>
<rect x="899.5" y="33.5" width="136" height="45" fill="#fff" stroke="#000" stroke-width="1.2"/>
<line x1="909.7" y1="53.3" x2="965" y2="53.3" stroke="#1f77b4" stroke-width="2.1"/>
<text transform="translate(987,63) scale(0.953,1)">UD</text>
<defs>
<g id="wc">
<path d="M844.2 637.5 L838.5 640.5 L839.6 633.7 A15.3 12.9 0 1 1 846.4 636.3 Z"/>
<circle cx="843.5" cy="619.9" r="1.7"/>
<circle cx="855.4" cy="619.9" r="1.7"/>
<path d="M868.6 645.8 A13.7 12.2 0 1 1 872.3 643.9 L873.3 648.3 Z"/>
<circle cx="858.8" cy="630.4" r="1.7"/>
<circle cx="868.2" cy="630.4" r="1.7"/>
</g>
</defs>
<g transform="translate(-0.7,0.7)" fill="#fff" stroke="#8c8c8c" stroke-width="1.1" stroke-linejoin="round"><use href="#wc"/></g>
<g fill="#fff" stroke="#e6e6e6" stroke-width="0.9" stroke-linejoin="round"><use href="#wc"/></g>
<text class="wm" x="884.3" y="640.5" style="fill:#8c8c8c">陆新征课题组</text>
<text class="wm" x="885" y="639.8" style="fill:#f8f8f8">陆新征课题组</text>
</svg>
</body></html>
